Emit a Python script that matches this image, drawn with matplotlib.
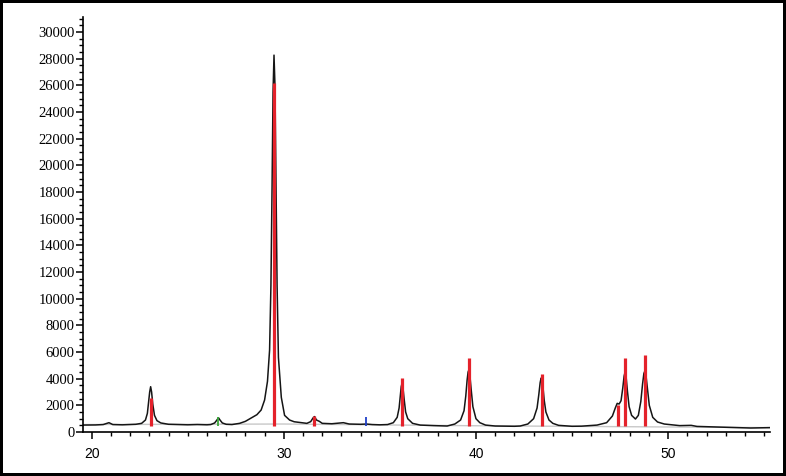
import numpy as np
import matplotlib
matplotlib.use('Agg')
import matplotlib.pyplot as plt
from matplotlib.ticker import MultipleLocator

two_theta = [19.5, 20.2, 20.6, 20.9, 21.1, 21.6, 22.0, 22.3, 22.6, 22.8, 22.9,
             22.97, 23.02, 23.07, 23.12, 23.18, 23.27, 23.4, 23.6, 24.0, 24.5,
             25.0, 25.5, 26.0, 26.2, 26.4, 26.52, 26.6, 26.68, 26.8, 27.0,
             27.3, 27.7, 28.0, 28.3, 28.6, 28.82, 29.0, 29.15, 29.26, 29.33,
             29.39, 29.44, 29.49, 29.54, 29.59, 29.65, 29.72, 29.87, 30.04,
             30.3, 30.54, 30.9, 31.2, 31.4, 31.52, 31.6, 31.7, 31.85, 32.0,
             32.5, 33.1, 33.4, 34.0, 34.3, 34.6, 35.0, 35.4, 35.7, 35.9,
             36.0, 36.06, 36.11, 36.15, 36.2, 36.26, 36.34, 36.45, 36.7, 37.1,
             37.8, 38.5, 38.9, 39.2, 39.38, 39.47, 39.54, 39.59, 39.63, 39.68,
             39.75, 39.84, 40.0, 40.2, 40.5, 41.0, 41.5, 42.0, 42.3, 42.7,
             43.0, 43.18, 43.27, 43.34, 43.39, 43.43, 43.48, 43.55, 43.64,
             43.8, 44.0, 44.3, 45.0, 45.5, 46.3, 46.8, 47.1, 47.25, 47.35,
             47.45, 47.55, 47.64, 47.71, 47.76, 47.81, 47.88, 47.97, 48.1,
             48.3, 48.45, 48.58, 48.67, 48.74, 48.79, 48.84, 48.92, 49.02,
             49.2, 49.45, 49.8, 50.2, 50.6, 51.2, 51.5, 52.5, 53.5, 54.3, 55.3]
counts = [520, 530, 560, 700, 560, 540, 560, 580, 650, 900, 1400,
          2300, 3000, 3400, 3000, 2100, 1250, 850, 680, 580, 560,
          540, 560, 540, 560, 680, 900, 1070, 900, 680, 580,
          560, 650, 800, 1050, 1300, 1650, 2400, 3800, 6150, 11000,
          18500, 25500, 28275, 26000, 19000, 11000, 5600, 2600, 1250,
          900, 770, 700, 650, 780, 1050, 1160, 900, 800, 650,
          620, 700, 600, 580, 600, 560, 540, 560, 700, 1100,
          1800, 2700, 3400, 3650, 3350, 2500, 1500, 1000, 650, 520,
          480, 450, 600, 900, 1600, 2700, 3900, 4500, 4650, 4300,
          3200, 1900, 1000, 700, 520, 450, 440, 430, 450, 600,
          1000, 1800, 2800, 3700, 4050, 4000, 3500, 2400, 1500,
          900, 650, 500, 430, 440, 520, 700, 1200, 1800, 2150,
          2100, 2350, 3300, 4200, 4500, 4200, 3100, 1900, 1250,
          975, 1250, 2300, 3600, 4400, 4575, 4350, 3300, 2000,
          1100, 750, 600, 540, 480, 500, 420, 380, 340, 300, 330]

# background line
bg_x = [19.5, 30.0, 40.0, 55.3]
bg_y = [560, 600, 470, 330]

# reference sticks
red_pos = [23.07, 29.49, 31.58, 36.15, 39.62, 43.42, 47.37, 47.78, 48.79]
red_top = [2550, 26175, 1200, 4030, 5530, 4330, 2025, 5530, 5775]
green_pos = [26.6]
green_top = [1125]
blue_pos = [34.3]
blue_top = [1150]
stick_base = 450

fig = plt.figure(figsize=(7.86, 4.76), dpi=100)
fig.patch.set_edgecolor('black')
fig.patch.set_linewidth(3)
ax = fig.add_axes([0.1056, 0.0924, 0.874, 0.8716])

ax.plot(bg_x, bg_y, color='#c8c8c8', lw=1, zorder=1)
ax.plot(two_theta, counts, color='#151515', lw=1.1, zorder=2)
ax.vlines(red_pos, stick_base, red_top, color='#e4222b', lw=2.3, zorder=3)
ax.vlines(green_pos, stick_base, green_top, color='#3aa83a', lw=1.3, zorder=3)
ax.vlines(blue_pos, stick_base, blue_top, color='#2040c8', lw=1.3, zorder=3)

ax.set_xlim(19.55, 55.3)
ax.set_ylim(0, 31125)

for s in ['top', 'right']:
    ax.spines[s].set_visible(False)
for s in ['left', 'bottom']:
    ax.spines[s].set_linewidth(1.2)

ax.xaxis.set_major_locator(MultipleLocator(10))
ax.xaxis.set_minor_locator(MultipleLocator(1))
ax.yaxis.set_major_locator(MultipleLocator(2000))
ax.yaxis.set_minor_locator(MultipleLocator(500))
ax.tick_params(axis='both', which='major', length=5, width=1.1, direction='out')
ax.tick_params(axis='both', which='minor', length=3, width=1.0, direction='out')
ax.tick_params(axis='y', pad=1)
ax.tick_params(axis='x', pad=6)

for lab in ax.get_yticklabels():
    lab.set_family('Liberation Serif')
    lab.set_fontsize(10.5)
for lab in ax.get_xticklabels():
    lab.set_family('Liberation Sans')
    lab.set_fontsize(10)

plt.savefig('out.png', dpi=100)
